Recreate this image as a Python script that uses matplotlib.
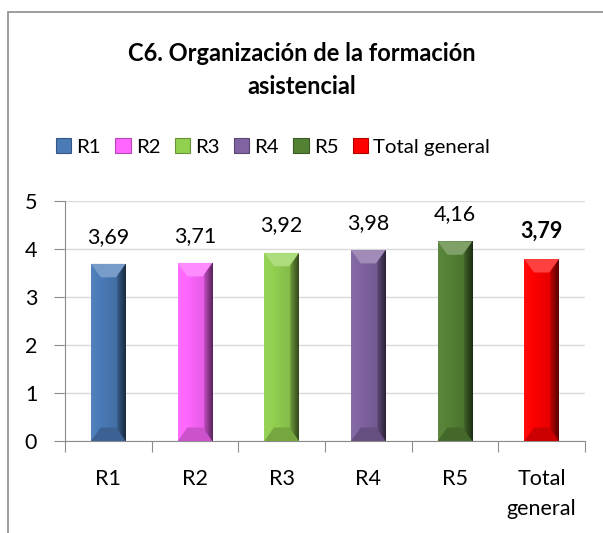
import numpy as np
import matplotlib.pyplot as plt
from matplotlib.patches import Rectangle, Patch
from matplotlib.colors import to_rgb

plt.rcParams['font.family'] = ['Lato', 'DejaVu Sans']

categorias = ["R1", "R2", "R3", "R4", "R5", "Total general"]
etiquetas_x = ["R1", "R2", "R3", "R4", "R5", "Total\ngeneral"]
valores = [3.69, 3.71, 3.92, 3.98, 4.16, 3.79]
colores = ["#4A7BB7", "#FF66FF", "#92D050", "#8064A2", "#548235", "#FF0000"]


def tono(c, f):
    r = np.array(to_rgb(c))
    if f >= 0:
        return tuple(r + (1 - r) * f)
    return tuple(r * (1 + f))


fig = plt.figure(figsize=(6.03, 5.33), dpi=100)
fig.patches.append(Rectangle((8 / 603, -0.1), 1.1, 1 - 12 / 533 + 0.1,
                             transform=fig.transFigure, fill=False,
                             edgecolor="#8c8c8c", linewidth=1.2))

ax = fig.add_axes([65 / 603, 1 - 441 / 533, 520 / 603, 240 / 533])
x = np.arange(len(categorias))
ancho = 0.40

barras = ax.bar(x, valores, width=ancho, color=colores, zorder=3)

# relleno con degradado para imitar el bisel
for b, c in zip(barras, colores):
    x0, y0 = b.get_x(), b.get_y()
    w, h = b.get_width(), b.get_height()
    grad = np.linspace(0, 1, 60)
    perfil = np.where(grad < 0.75, 0.05 - 0.2 * grad, -0.25 - 1.6 * (grad - 0.75))
    img = np.array([[tono(c, p) for p in perfil]])
    im = ax.imshow(img, extent=[x0, x0 + w, y0, y0 + h], aspect="auto",
                   zorder=3.5, interpolation="bilinear")
    im.set_clip_path(b)
    # bisel superior
    ax.fill([x0, x0 + w, x0 + w * 0.72, x0 + w * 0.28],
            [y0 + h, y0 + h, y0 + h - 0.28, y0 + h - 0.28],
            color=tono(c, 0.25), zorder=4, linewidth=0)
    # bisel inferior
    ax.fill([x0, x0 + w, x0 + w * 0.72, x0 + w * 0.28],
            [y0, y0, y0 + 0.28, y0 + 0.28],
            color=tono(c, -0.2), zorder=4, linewidth=0)

for i, v in enumerate(valores):
    ax.text(x[i], v + 0.36, f"{v:.2f}".replace(".", ","), ha="center",
            va="bottom", fontsize=15.5,
            fontweight="bold" if i == len(valores) - 1 else "normal")

ax.set_xlim(-0.5, len(categorias) - 0.5)
ax.set_ylim(0, 5)
ax.set_yticks(range(0, 6))
ax.set_yticklabels([str(t) for t in range(0, 6)], fontsize=15.5)
ax.set_xticks(np.arange(-0.5, len(categorias), 1))
ax.set_xticklabels([])
ax.set_xticks(x, minor=True)
ax.set_xticklabels(etiquetas_x, minor=True, fontsize=15.5, linespacing=1.6)
ax.tick_params(axis="x", which="minor", length=0, pad=20.5)
ax.tick_params(axis="x", which="major", length=8, color="#8c8c8c")
ax.tick_params(axis="y", length=8, color="#8c8c8c", pad=12)
ax.grid(axis="y", color="#d9d9d9", linewidth=1, zorder=0)
for s in ["top", "right"]:
    ax.spines[s].set_visible(False)
ax.spines["left"].set_color("#8c8c8c")
ax.spines["bottom"].set_color("#8c8c8c")

fig.text(0.5, 1 - 70 / 533, "C6. Organización de la formación\nasistencial",
         ha="center", va="center", fontsize=17, fontweight="bold",
         linespacing=1.55)

manijas = [Patch(facecolor=c, edgecolor=tono(c, -0.3), linewidth=0.8) for c in colores]
fig.legend(manijas, categorias, loc="center", bbox_to_anchor=(273 / 603, 1 - 147 / 533),
           ncol=6, frameon=False, fontsize=14.7, handlelength=0.75, handleheight=0.75,
           handletextpad=0.25, columnspacing=0.7)

fig.savefig("out.png", dpi=100)
